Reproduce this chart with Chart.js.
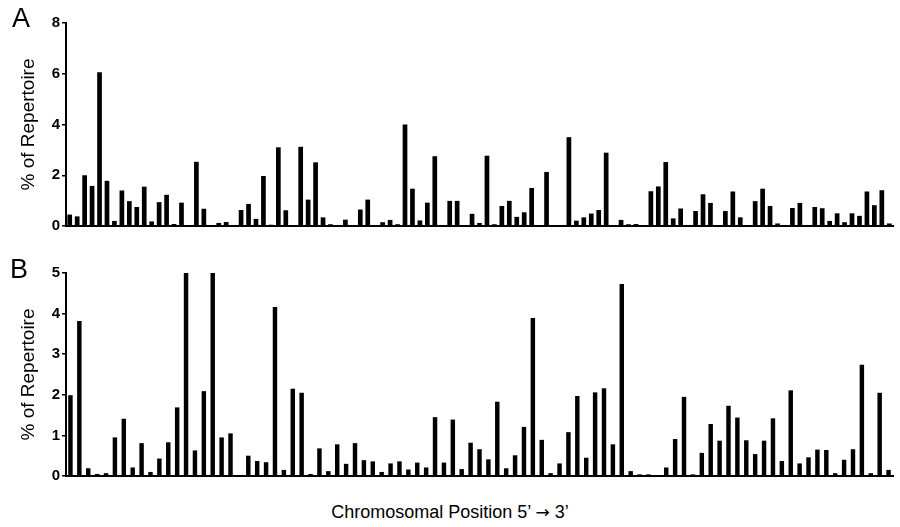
<!DOCTYPE html>
<html>
<head>
<meta charset="utf-8">
<script src="https://cdn.jsdelivr.net/npm/chart.js@4.4.1/dist/chart.umd.min.js"></script>
<style>
  html, body { margin:0; padding:0; background:#fff; }
  body { width:900px; height:527px; position:relative; overflow:hidden; font-family:"Liberation Sans", Arial, sans-serif; }
  .wrap { position:absolute; left:0; width:900px; height:250px; }
  .panel { position:absolute; font-size:27px; line-height:27px; color:#000; }
  #xlabel { position:absolute; left:0; width:900px; text-align:center; top:503px; font-size:18px; line-height:18px; color:#000; }
  .arr { font-family:"DejaVu Sans", sans-serif; font-size:17px; }
</style>
</head>
<body>
<div class="wrap" style="top:0"><canvas id="cA" width="900" height="250"></canvas></div>
<div class="wrap" style="top:250px"><canvas id="cB" width="900" height="250"></canvas></div>
<div class="panel" style="left:12px; top:5px;">A</div>
<div class="panel" style="left:10px; top:256px;">B</div>
<div id="xlabel">Chromosomal Position 5’ <span class="arr">→</span> 3’</div>
<script>
// Panel A: % of repertoire per chromosomal position (111 positions)
const valuesA = [
  0.45,0.38,2.0,1.58,6.06,1.78,0.2,1.4,0.98,0.75,
  1.55,0.18,0.94,1.23,0.08,0.92,0,2.53,0.68,0,
  0.12,0.16,0,0.63,0.87,0.28,1.97,0.05,3.1,0.62,
  0,3.12,1.04,2.51,0.34,0.07,0,0.25,0,0.65,
  1.04,0,0.15,0.24,0.07,4.0,1.47,0.22,0.92,2.75,
  0,0.99,0.99,0,0.48,0.12,2.77,0.07,0.79,0.99,
  0.36,0.54,1.5,0,2.13,0,0,3.5,0.21,0.34,
  0.49,0.63,2.89,0,0.24,0.07,0.08,0.03,1.37,1.56,
  2.52,0.3,0.69,0,0.59,1.25,0.91,0,0.59,1.36,
  0.34,0,0.98,1.47,0.79,0.1,0,0.71,0.91,0,
  0.75,0.7,0.2,0.5,0.15,0.5,0.4,1.36,0.82,1.41,0.1
];
// Panel B: % of repertoire per chromosomal position (93 positions)
const valuesB = [
  1.99,3.82,0.19,0.05,0.07,0.95,1.41,0.21,0.81,0.1,
  0.43,0.83,1.69,5.0,0.63,2.09,5.0,0.95,1.05,0,
  0.5,0.37,0.34,4.16,0.15,2.15,2.05,
  0.05,0.68,0.12,0.78,0.3,0.81,0.39,0.36,0.1,0.31,
  0.36,0.16,0.33,0.21,1.45,0.33,1.39,0.17,0.82,0.66,
  0.41,1.83,0.19,0.51,1.21,3.89,0.89,0.07,0.31,1.08,
  1.97,0.45,
  2.06,2.16,0.78,4.73,0.12,0.04,0.04,0.02,0.21,0.91,
  1.95,0.04,0.57,1.28,0.87,1.73,1.44,0.88,0.54,0.87,
  1.42,0.37,2.11,0.31,0.46,0.65,0.64,0.07,0.4,0.66,
  2.74,0.07,2.05,0.15
];
const positionsA = valuesA.map((_, i) => String(i + 1));
const positionsB = valuesB.map((_, i) => String(i + 1));
const yTicksA = { max: 8, step: 2 };
const yTicksB = { max: 5, step: 1 };
const yTitle = '% of Repertoire';

function makeChart(id, labels, values, yt, barPct) {
  return new Chart(document.getElementById(id), {
    type: 'bar',
    data: {
      labels: labels,
      datasets: [{
        data: values,
        backgroundColor: '#000',
        borderWidth: 0,
        barPercentage: barPct,
        categoryPercentage: 1
      }]
    },
    options: {
      responsive: false,
      animation: false,
      devicePixelRatio: 1,
      layout: { padding: { left: 0, right: 7, top: 23, bottom: 24 } },
      plugins: { legend: { display: false }, tooltip: { enabled: false } },
      scales: {
        x: {
          display: true,
          offset: true,
          ticks: { display: false },
          grid: { display: false },
          border: { display: true, color: '#000', width: 2 },
          afterFit(s) { s.height = 0; }
        },
        y: {
          min: 0,
          max: yt.max,
          ticks: {
            stepSize: yt.step,
            color: '#000',
            padding: 2,
            font: { family: 'Liberation Sans', size: 15, weight: 'bold' }
          },
          grid: {
            display: true,
            drawOnChartArea: false,
            drawTicks: true,
            tickLength: 4,
            color: '#000',
            lineWidth: 1.5
          },
          border: { display: true, color: '#000', width: 2 },
          title: {
            display: true,
            text: yTitle,
            color: '#000',
            font: { family: 'Liberation Sans', size: 19 },
            padding: { top: 17, bottom: 0 }
          },
          afterFit(s) { s.width = 66; }
        }
      }
    }
  });
}
makeChart('cA', positionsA, valuesA, yTicksA, 0.63);
makeChart('cB', positionsB, valuesB, yTicksB, 0.5);
</script>
</body>
</html>
